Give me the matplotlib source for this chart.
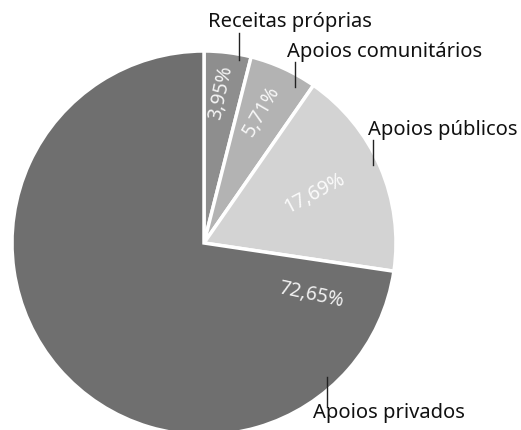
import numpy as np
import matplotlib
matplotlib.use("Agg")
import matplotlib.pyplot as plt

categories = ["Receitas próprias", "Apoios comunitários", "Apoios públicos", "Apoios privados"]
values = [3.95, 5.71, 17.69, 72.65]
pct_labels = ["3,95%", "5,71%", "17,69%", "72,65%"]
colors = ["#8e8e8e", "#b3b3b3", "#d3d3d3", "#6f6f6f"]

W, H = 521, 430
fig = plt.figure(figsize=(W / 100, H / 100), dpi=100)
ax = fig.add_axes([0, 0, 1, 1])
ax.set_xlim(0, W)
ax.set_ylim(0, H)
ax.axis("off")

cx, cy, R = 204, 430 - 243, 192
wedges, _ = ax.pie(values, colors=colors, startangle=90, counterclock=False,
                   center=(cx, cy), radius=R,
                   wedgeprops=dict(edgecolor="white", linewidth=2.5))
ax.set_xlim(0, W)
ax.set_ylim(0, H)
ax.set_aspect("auto")

font = ["Noto Sans", "DejaVu Sans"]

# percentage labels (rotated radially)
pct_pos = [  # (angle deg, radius fraction, rotation)
    (83.6, 0.79, 78),
    (66.3, 0.75, 60),
    (24.0, 0.63, 28),
    (-25.7, 0.62, -12),
]
for lab, (a, rf, rot) in zip(pct_labels, pct_pos):
    t = np.deg2rad(a)
    ax.text(cx + rf * R * np.cos(t), cy + rf * R * np.sin(t), lab,
            rotation=rot, rotation_mode="anchor", ha="center", va="center",
            fontsize=14, color="white", alpha=0.9, family=font, fontweight="light")

# leader lines + category labels
leaders = [  # (anchor angle, radius frac, line end y (px from top), text x, text y)
    (79.2, 0.97, 33, 208, 22),
    (59.6, 0.94, 62, 287, 52),
    (24.8, 0.97, 140, 368, 130),
    (-47.4, 0.95, 407, 313, 413),
]
for lab, (a, rf, yend, tx, ty) in zip(categories, leaders):
    t = np.deg2rad(a)
    x0 = cx + rf * R * np.cos(t)
    y0 = cy + rf * R * np.sin(t)
    ax.plot([x0, x0], [y0, H - yend], color="#222222", lw=1.0)
    ax.text(tx, H - ty, lab, ha="left", va="center", fontsize=14.5,
            color="#111111", family=font)

fig.savefig("out.png", dpi=100)
